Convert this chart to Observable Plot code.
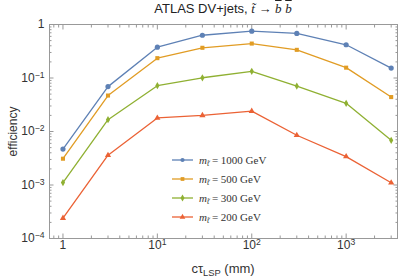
<!DOCTYPE html>
<html>
<head>
<meta charset="utf-8">
<script src="https://cdn.jsdelivr.net/npm/d3@7"></script>
<script src="https://cdn.jsdelivr.net/npm/@observablehq/plot@0.6"></script>
<style>
  body { margin: 0; background: #fff; }
  #wrap { position: relative; width: 399px; height: 277px; font-family: "Liberation Sans", Arial, sans-serif; }
  #wrap svg.plot { position: absolute; left: 0; top: 0; }
  .title { position: absolute; left: 49px; width: 348px; top: 1px; text-align: center; font-size: 13px; color: #222; white-space: nowrap; }
  .xlabel { position: absolute; left: 49px; width: 348px; top: 261px; text-align: center; font-size: 13px; color: #333; white-space: nowrap; }
  .m { font-family: "Liberation Serif", serif; font-style: italic; }
  .ov { text-decoration: overline; }
  .legend { position: absolute; left: 172px; top: 150px; font-family: "Liberation Serif", serif; font-size: 11px; color: #333; }
  .legend .row { height: 19.2px; display: flex; align-items: center; }
  .legend svg { margin-right: 6px; }
  sub { font-size: 0.72em; vertical-align: -0.3em; line-height: 0; }
</style>
</head>
<body>
<div id="wrap">
  <div class="title">ATLAS DV+jets, <span class="m">t&#771;</span> &#8594; <span class="m ov">b</span> <span class="m ov">b</span></div>
  <div class="xlabel">c<span>τ</span><sub>LSP</sub> (mm)</div>
  <div class="legend" id="legend"></div>
</div>
<script>
// ---- data ----
const ctau = [1, 3, 10, 30, 100, 300, 1000, 3000];
const eff1000 = [0.0047, 0.069, 0.377, 0.63, 0.75, 0.68, 0.418, 0.153];
const eff500  = [0.0031, 0.047, 0.235, 0.367, 0.44, 0.336, 0.156, 0.044];
const eff300  = [0.00111, 0.0166, 0.0717, 0.101, 0.133, 0.0706, 0.0336, 0.00686];
const eff200  = [0.00024, 0.0036, 0.0179, 0.020, 0.024, 0.0085, 0.0034, 0.00110];
const masses  = [1000, 500, 300, 200];
const colors  = ["#5E81B5", "#E19C24", "#8FB032", "#EB6235"];
const symbols = ["circle", "square", "diamond", "triangle"];
const xMajor = [1, 10, 100, 1000];
const yMajor = [1e-4, 1e-3, 1e-2, 1e-1, 1];
const xTickLabels = ["1", "10^1", "10^2", "10^3"];
const yTickLabels = ["10^−4", "10^−3", "10^−2", "10^−1", "1"];

const seriesValues = [eff1000, eff500, eff300, eff200];
const rows = [];
seriesValues.forEach((vals, i) => vals.forEach((v, j) => rows.push({m: masses[i], ctau: ctau[j], eff: v})));

const xMinor = [];
for (let e = -1; e <= 3; e++) for (let k = 2; k <= 9; k++) { const v = k * 10 ** e; if (v > 0.72 && v < 3500) xMinor.push(v); }
const yMinor = [];
for (let e = -4; e < 0; e++) for (let k = 2; k <= 9; k++) yMinor.push(k * 10 ** e);

const fmtX = d => xTickLabels[xMajor.indexOf(d)];
const fmtY = d => yTickLabels[yMajor.findIndex(v => Math.abs(v - d) / v < 1e-6)];
const blank = () => "";
const axisColor = "#999";

const marks = [Plot.frame({stroke: axisColor})];
for (const anchor of ["bottom", "top"]) {
  marks.push(Plot.axisX({anchor, ticks: xMajor, tickSize: -4.5, tickFormat: blank, label: null, stroke: axisColor}));
  marks.push(Plot.axisX({anchor, ticks: xMinor, tickSize: -2.5, tickFormat: blank, label: null, stroke: axisColor}));
}
for (const anchor of ["left", "right"]) {
  marks.push(Plot.axisY({anchor, ticks: yMajor, tickSize: -4.5, tickFormat: blank, label: null, stroke: axisColor}));
  marks.push(Plot.axisY({anchor, ticks: yMinor, tickSize: -2.5, tickFormat: blank, label: null, stroke: axisColor}));
}
marks.push(Plot.axisX({anchor: "bottom", ticks: xMajor, tickSize: 0, tickPadding: 2, tickFormat: fmtX, label: null, fontSize: 12, fill: "#333"}));
marks.push(Plot.axisY({anchor: "left", ticks: yMajor, tickSize: 0, tickPadding: 5, tickFormat: fmtY, label: "efficiency", labelAnchor: "center", labelArrow: "none", labelOffset: 41, fontSize: 12, fill: "#333"}));

masses.forEach((m, i) => {
  const d = rows.filter(r => r.m === m);
  marks.push(Plot.line(d, {x: "ctau", y: "eff", stroke: colors[i], strokeWidth: 1.3}));
  marks.push(Plot.dot(d, {x: "ctau", y: "eff", fill: colors[i], symbol: symbols[i], r: i === 0 ? 2.6 : (i === 2 ? 2.2 : 2.3)}));
});

const chart = Plot.plot({
  width: 399, height: 277,
  marginTop: 24, marginBottom: 39, marginLeft: 49, marginRight: 2,
  style: {fontFamily: "Liberation Sans, Arial, sans-serif", fontSize: "12px", color: "#333", background: "transparent"},
  x: {type: "log", domain: [0.72, 3500]},
  y: {type: "log", domain: [1e-4, 1]},
  marks
});
chart.classList.add("plot");
document.getElementById("wrap").prepend(chart);

// superscript exponents in tick labels
d3.select(chart).selectAll("text").each(function() {
  const el = d3.select(this);
  const tspans = el.selectAll("tspan");
  const target = tspans.empty() ? el : d3.select(tspans.nodes()[0]);
  const s = target.text();
  if (s.includes("^")) {
    const [base, exp] = s.split("^");
    target.text(base);
    target.append("tspan").attr("dy", "-0.45em").attr("font-size", "0.72em").text(exp);
  }
});

// legend
const leg = d3.select("#legend");
masses.forEach((m, i) => {
  const row = leg.append("div").attr("class", "row");
  const s = row.append("svg").attr("width", 21).attr("height", 10);
  s.append("line").attr("x1", 0).attr("x2", 21).attr("y1", 5).attr("y2", 5).attr("stroke", colors[i]).attr("stroke-width", 1.3);
  s.append("path").attr("transform", "translate(10.5,5)").attr("d", d3.symbol(
    {circle: d3.symbolCircle, square: d3.symbolSquare, diamond: d3.symbolDiamond, triangle: d3.symbolTriangle}[symbols[i]], 14)()).attr("fill", colors[i]);
  const t = row.append("span");
  t.html(`<i>m</i><sub><i>t&#771;</i></sub> = ${m} GeV`);
});
</script>
</body>
</html>
